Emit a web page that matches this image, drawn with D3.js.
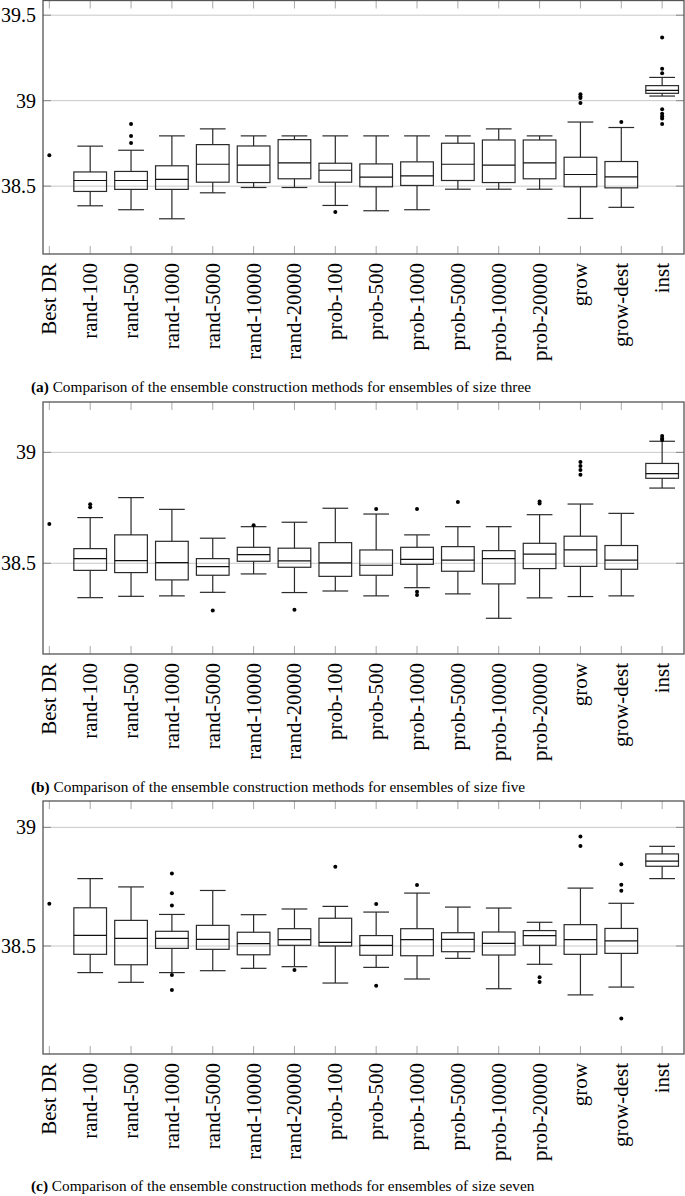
<!DOCTYPE html>
<html>
<head>
<meta charset="utf-8">
<script src="https://cdn.jsdelivr.net/npm/d3@7"></script>
<style>
  body { margin: 0; background: #fff; }
  svg { display: block; }
  text { font-family: "Liberation Serif", serif; fill: #000; }
</style>
</head>
<body>
<div id="chart"></div>
<script>
// categories (Best DR is a single value, the rest are boxes)
const categories = ['Best DR', 'rand-100', 'rand-500', 'rand-1000', 'rand-5000', 'rand-10000', 'rand-20000',
  'prob-100', 'prob-500', 'prob-1000', 'prob-5000', 'prob-10000', 'prob-20000', 'grow', 'grow-dest', 'inst'];
const bestDR = [38.68, 38.677, 38.678];

// size three
const lowA  = [38.385, 38.362, 38.309, 38.461, 38.492, 38.492, 38.387, 38.356, 38.362, 38.482, 38.482, 38.482, 38.311, 38.376, 39.027];
const q1A   = [38.469, 38.481, 38.481, 38.523, 38.521, 38.543, 38.523, 38.496, 38.504, 38.533, 38.521, 38.543, 38.496, 38.490, 39.043];
const medA  = [38.533, 38.533, 38.539, 38.628, 38.623, 38.636, 38.593, 38.553, 38.560, 38.628, 38.623, 38.636, 38.568, 38.554, 39.060];
const q3A   = [38.583, 38.586, 38.619, 38.743, 38.735, 38.772, 38.634, 38.630, 38.642, 38.751, 38.770, 38.770, 38.669, 38.644, 39.088];
const highA = [38.734, 38.710, 38.794, 38.835, 38.794, 38.794, 38.794, 38.794, 38.794, 38.794, 38.835, 38.794, 38.875, 38.843, 39.136];
const outA  = [[], [38.864, 38.794, 38.753], [], [], [], [], [38.348], [], [], [], [], [],
  [39.037, 39.025, 39.015, 38.986], [38.875], [39.370, 39.187, 39.160, 38.950, 38.924, 38.909, 38.895, 38.864]];

// size five
const lowB  = [38.345, 38.351, 38.353, 38.369, 38.452, 38.368, 38.375, 38.353, 38.390, 38.362, 38.252, 38.344, 38.350, 38.353, 38.839];
const q1B   = [38.468, 38.458, 38.425, 38.446, 38.509, 38.482, 38.441, 38.446, 38.495, 38.464, 38.407, 38.476, 38.486, 38.473, 38.883];
const medB  = [38.521, 38.512, 38.503, 38.485, 38.539, 38.511, 38.502, 38.491, 38.518, 38.514, 38.521, 38.541, 38.560, 38.514, 38.904];
const q3B   = [38.566, 38.628, 38.599, 38.521, 38.572, 38.568, 38.593, 38.560, 38.572, 38.575, 38.557, 38.590, 38.622, 38.580, 38.950];
const highB = [38.706, 38.796, 38.743, 38.613, 38.665, 38.685, 38.748, 38.722, 38.628, 38.665, 38.665, 38.719, 38.767, 38.725, 39.050];
const outB  = [[38.766, 38.752], [], [], [38.287], [38.671], [38.290], [], [38.745], [38.745, 38.372, 38.357], [38.776], [],
  [38.778, 38.770], [38.956, 38.938, 38.920, 38.899], [], [39.074, 39.063, 39.056]];

// size seven
const lowC  = [38.388, 38.347, 38.388, 38.396, 38.406, 38.413, 38.344, 38.410, 38.361, 38.448, 38.320, 38.423, 38.294, 38.327, 38.784];
const q1C   = [38.465, 38.421, 38.490, 38.486, 38.463, 38.503, 38.500, 38.461, 38.459, 38.476, 38.462, 38.503, 38.465, 38.469, 38.836];
const medC  = [38.545, 38.532, 38.532, 38.528, 38.510, 38.527, 38.515, 38.503, 38.527, 38.528, 38.511, 38.544, 38.527, 38.522, 38.858];
const q3C   = [38.661, 38.608, 38.562, 38.587, 38.558, 38.573, 38.617, 38.544, 38.573, 38.556, 38.559, 38.565, 38.590, 38.574, 38.888];
const highC = [38.784, 38.749, 38.633, 38.734, 38.632, 38.656, 38.667, 38.643, 38.723, 38.664, 38.660, 38.600, 38.744, 38.680, 38.920];
const outC  = [[], [], [38.806, 38.722, 38.671, 38.378, 38.315], [], [], [38.399], [38.834], [38.677, 38.333], [38.757], [], [],
  [38.368, 38.348], [38.961, 38.921], [38.844, 38.758, 38.733, 38.195], []];

const ticksA = [38.5, 39, 39.5];
const ticksBC = [38.5, 39];

const panels = [
  {low: lowA, q1: q1A, med: medA, q3: q3A, high: highA, out: outA, best: bestDR[0],
   domain: [38.103, 39.586], top: 0.5, bottom: 254, ticks: ticksA, capY: 392,
   tag: '(a)', caption: ' Comparison of the ensemble construction methods for ensembles of size three'},
  {low: lowB, q1: q1B, med: medB, q3: q3B, high: highB, out: outB, best: bestDR[1],
   domain: [38.091, 39.227], top: 402, bottom: 654, ticks: ticksBC, capY: 792,
   tag: '(b)', caption: ' Comparison of the ensemble construction methods for ensembles of size five'},
  {low: lowC, q1: q1C, med: medC, q3: q3C, high: highC, out: outC, best: bestDR[2],
   domain: [38.045, 39.111], top: 801, bottom: 1054, ticks: ticksBC, capY: 1191,
   tag: '(c)', caption: ' Comparison of the ensemble construction methods for ensembles of size seven'}
];

const W = 685, H = 1196;
const left = 43, right = 684;

const svg = d3.select('#chart').append('svg')
  .attr('width', W)
  .attr('height', H);

const x = d3.scaleLinear().domain([-0.155, 15.535]).range([left, right]);
const boxHalf = 0.4, capHalf = 0.315;

panels.forEach(p => {
  const y = d3.scaleLinear().domain(p.domain).range([p.bottom, p.top]);
  const g = svg.append('g');

  // grid
  g.selectAll('.grid').data(p.ticks).enter().append('line')
    .attr('x1', left).attr('x2', right)
    .attr('y1', d => y(d)).attr('y2', d => y(d))
    .attr('stroke', '#c8c8c8').attr('stroke-width', 1);

  // y ticks both sides
  p.ticks.forEach(t => {
    g.append('line').attr('x1', left).attr('x2', left + 8).attr('y1', y(t)).attr('y2', y(t))
      .attr('stroke', '#888').attr('stroke-width', 1);
    g.append('line').attr('x1', right - 8).attr('x2', right).attr('y1', y(t)).attr('y2', y(t))
      .attr('stroke', '#888').attr('stroke-width', 1);
  });

  // x ticks top and bottom
  categories.forEach((c, i) => {
    g.append('line').attr('x1', x(i)).attr('x2', x(i)).attr('y1', p.top).attr('y2', p.top + 8)
      .attr('stroke', '#aaa').attr('stroke-width', 1);
    g.append('line').attr('x1', x(i)).attr('x2', x(i)).attr('y1', p.bottom - 8).attr('y2', p.bottom)
      .attr('stroke', '#aaa').attr('stroke-width', 1);
  });

  // frame
  g.append('rect')
    .attr('x', left).attr('y', p.top)
    .attr('width', right - left).attr('height', p.bottom - p.top)
    .attr('fill', 'none').attr('stroke', '#555').attr('stroke-width', 1.3);

  // y labels
  g.selectAll('.ylab').data(p.ticks).enter().append('text')
    .attr('x', 36).attr('y', d => y(d)).attr('dy', '0.35em')
    .attr('text-anchor', 'end').attr('font-size', 20)
    .text(d => d3.format('')(d));

  // x labels
  g.selectAll('.xlab').data(categories).enter().append('text')
    .attr('transform', (d, i) => `translate(${x(i)},${p.bottom + 9}) rotate(-90)`)
    .attr('dy', '0.33em')
    .attr('text-anchor', 'end').attr('font-size', 21)
    .text(d => d);

  // Best DR single point
  g.append('circle').attr('cx', x(0)).attr('cy', y(p.best)).attr('r', 2).attr('fill', '#000');

  // boxes
  p.med.forEach((m, k) => {
    const i = k + 1, cx = x(i);
    const bw = x(boxHalf) - x(0), cw = x(capHalf) - x(0);
    const st = '#2a2a2a', sw = 1.2;
    g.append('line').attr('x1', cx).attr('x2', cx).attr('y1', y(p.high[k])).attr('y2', y(p.q3[k]))
      .attr('stroke', st).attr('stroke-width', sw);
    g.append('line').attr('x1', cx).attr('x2', cx).attr('y1', y(p.q1[k])).attr('y2', y(p.low[k]))
      .attr('stroke', st).attr('stroke-width', sw);
    g.append('line').attr('x1', cx - cw).attr('x2', cx + cw).attr('y1', y(p.high[k])).attr('y2', y(p.high[k]))
      .attr('stroke', st).attr('stroke-width', sw);
    g.append('line').attr('x1', cx - cw).attr('x2', cx + cw).attr('y1', y(p.low[k])).attr('y2', y(p.low[k]))
      .attr('stroke', st).attr('stroke-width', sw);
    g.append('rect').attr('x', cx - bw).attr('width', 2 * bw)
      .attr('y', y(p.q3[k])).attr('height', y(p.q1[k]) - y(p.q3[k]))
      .attr('fill', 'none').attr('stroke', st).attr('stroke-width', sw);
    g.append('line').attr('x1', cx - bw).attr('x2', cx + bw).attr('y1', y(m)).attr('y2', y(m))
      .attr('stroke', '#111').attr('stroke-width', sw);
    g.selectAll(null).data(p.out[k]).enter().append('circle')
      .attr('cx', cx).attr('cy', d => y(d)).attr('r', 2).attr('fill', '#000');
  });

  // caption
  const cap = g.append('text').attr('x', 31).attr('y', p.capY).attr('font-size', 15.3);
  cap.append('tspan').attr('font-weight', 'bold').text(p.tag);
  cap.append('tspan').text(p.caption);
});
</script>
</body>
</html>
